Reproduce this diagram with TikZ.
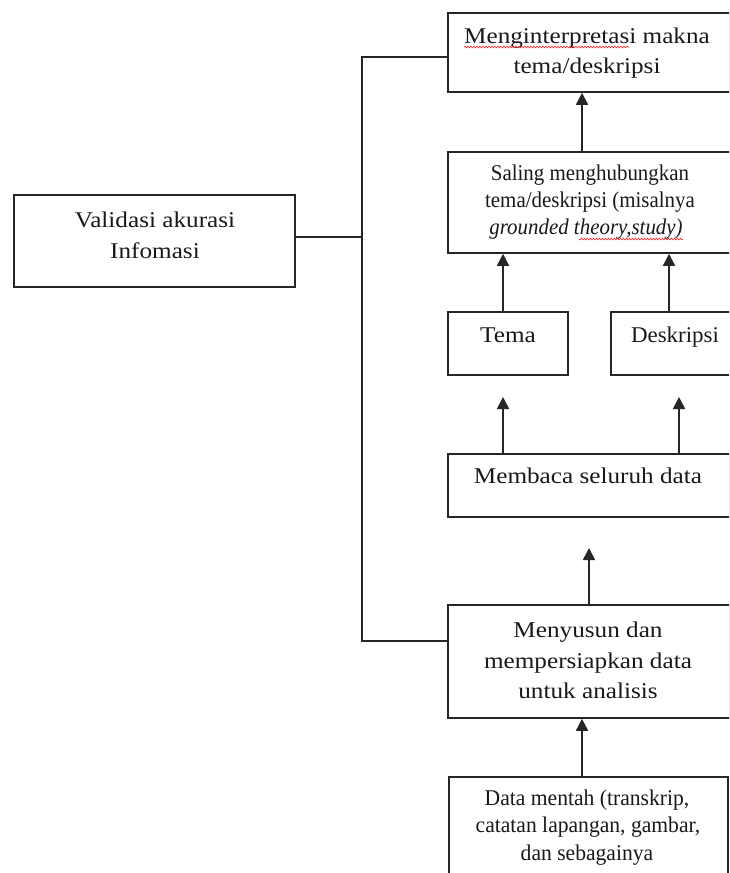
\documentclass[tikz,border=0pt]{standalone}
\usepackage{fontspec}
\setmainfont[FakeStretch=1.12]{Liberation Serif}
\newfontfamily\fsal[FakeStretch=0.93]{Liberation Serif}
\newfontfamily\fdat[FakeStretch=0.96]{Liberation Serif}
\newfontfamily\fdes[FakeStretch=1.02]{Liberation Serif}
\usetikzlibrary{arrows.meta,decorations.pathmorphing}
\begin{document}
\begin{tikzpicture}[x=1pt,y=-1pt,
  box/.style={draw=black!85,line width=1.6pt,rectangle,inner sep=0pt},
  txt/.style={anchor=base,inner sep=0pt,text=black!90,font=\fontsize{22.5}{27}\selectfont},
  conn/.style={draw=black!85,line width=1.6pt},
  arr/.style={conn,-{Triangle[length=12pt,width=12pt]}},
  squig/.style={draw=red!85,line width=0.6pt,decorate,decoration={snake,amplitude=0.9pt,segment length=3pt}}]
\useasboundingbox (0,0) rectangle (729,873);
\clip (0,0) rectangle (729,873);
% boxes
\node[box,minimum width=282pt,minimum height=79pt] (top) at (589,52.5) {};
\node[box,minimum width=284pt,minimum height=101pt] (sal) at (590,202.5) {};
\node[box,minimum width=120pt,minimum height=63pt] (tema) at (508,343.5) {};
\node[box,minimum width=129pt,minimum height=63pt] (des) at (675.5,343.5) {};
\node[box,minimum width=282pt,minimum height=63pt] (mem) at (589,485.5) {};
\node[box,minimum width=282pt,minimum height=113pt] (mny) at (589,661.5) {};
\node[box,minimum width=279pt,minimum height=123pt] (dat) at (588.5,838.5) {};
\node[box,minimum width=281pt,minimum height=92pt] (val) at (154.5,241) {};
% texts
\node[txt] (t1a) at (587,43) {Menginterpretasi makna};
\node[txt] (t1b) at (587,73) {tema/deskripsi};
\node[txt] (t2a) at (590,180) {\fsal Saling menghubungkan};
\node[txt] (t2b) at (590,207) {\fsal tema/deskripsi (misalnya};
\node[txt] (t2c) at (586,234) {\fsal\itshape grounded theory,study)};
\node[txt] (t3) at (508,342) {Tema};
\node[txt] (t4) at (675,342) {\fdes Deskripsi};
\node[txt] (t5) at (588,483) {Membaca seluruh data};
\node[txt] (t6a) at (588,637) {Menyusun dan};
\node[txt] (t6b) at (588,668) {mempersiapkan data};
\node[txt] (t6c) at (588,698) {untuk analisis};
\node[txt] (t7a) at (587,805) {\fdat Data mentah (transkrip,};
\node[txt] (t7b) at (588,832) {\fdat catatan lapangan, gambar,};
\node[txt] (t7c) at (587,860) {\fdat dan sebagainya};
\node[txt] (t8a) at (155,227) {Validasi akurasi};
\node[txt] (t8b) at (155,258) {Infomasi};
% spell-check marks
\draw[squig] ([yshift=-4pt]t1a.base west) -- ++(165,0);
\draw[squig] ([yshift=-5pt]t2c.base east) -- ++(-104,0);
% spine
\coordinate (sp1) at (362,57);
\coordinate (sp2) at (362,641);
\coordinate (sp3) at (362,237);
\draw[conn] ([yshift=-4.5pt]top.west) -- (sp1) -- (sp2) -- (mny.west |- sp2);
\draw[conn] ([yshift=4pt]val.east) -- (sp3);
% arrows
\draw[arr] ([xshift=-8pt]sal.north) -- ([xshift=-8pt]sal.north |- top.south);
\draw[arr] ([xshift=-5pt]tema.north) -- ([xshift=-5pt]tema.north |- sal.south);
\draw[arr] ([xshift=-6.5pt]des.north) -- ([xshift=-6.5pt]des.north |- sal.south);
\coordinate (g1) at (503,397);
\coordinate (g2) at (679,397);
\coordinate (g3) at (589,548);
\draw[arr] (mem.north -| g1) -- (g1);
\draw[arr] (mem.north -| g2) -- (g2);
\draw[arr] (mny.north -| g3) -- (g3);
\draw[arr] ([xshift=-6.5pt]dat.north) -- ([xshift=-6.5pt]dat.north |- mny.south);
\end{tikzpicture}
\end{document}
